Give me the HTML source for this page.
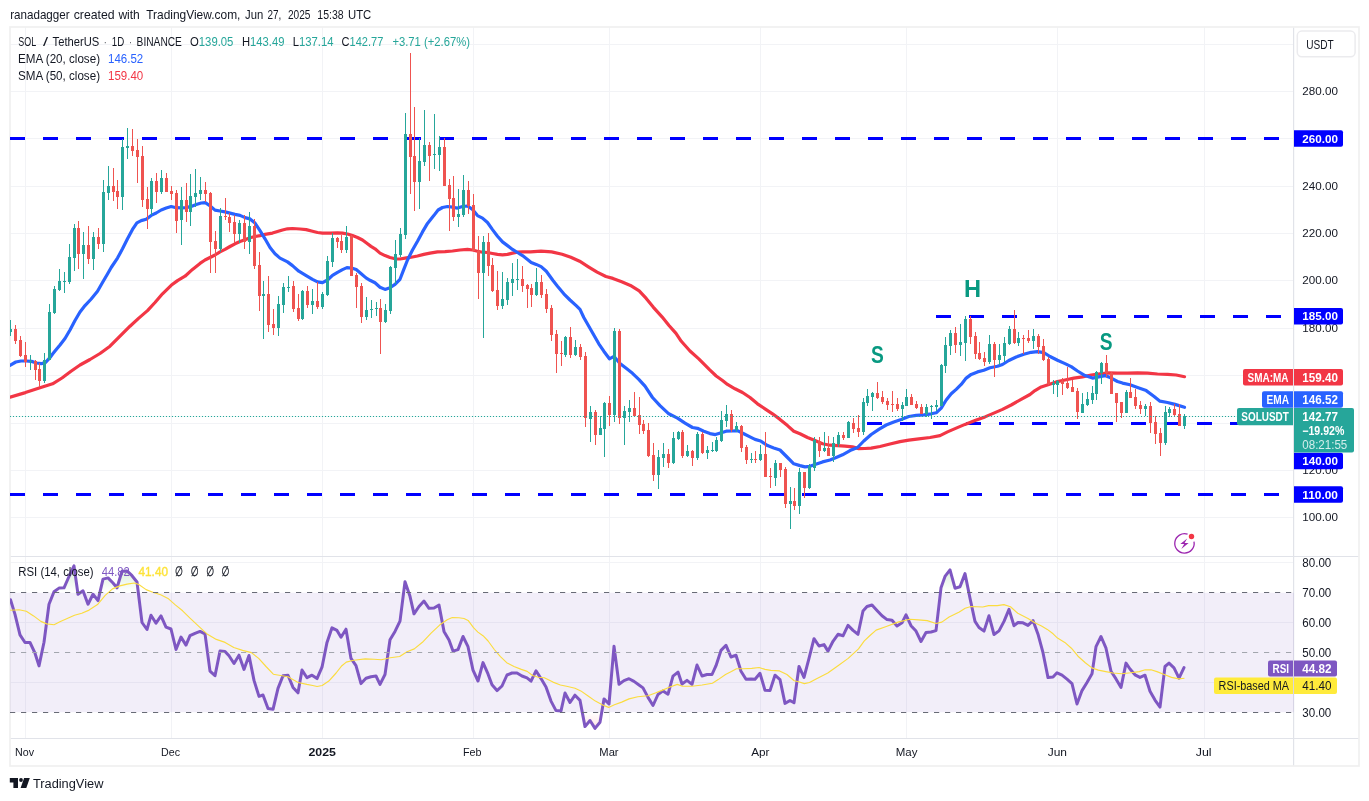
<!DOCTYPE html>
<html lang="en"><head><meta charset="utf-8"><title>SOL / TetherUS chart</title>
<style>html,body{margin:0;padding:0;background:#fff}body{width:1369px;height:801px;overflow:hidden}svg{display:block}</style>
</head><body>
<svg width="1369" height="801" viewBox="0 0 1369 801" font-family='"Liberation Sans", sans-serif' shape-rendering="auto">
<rect width="1369" height="801" fill="#fff"/>
<path d="M10 44.5H1294M10 91.5H1294M10 138.5H1294M10 186.5H1294M10 233.5H1294M10 280.5H1294M10 328.5H1294M10 375.5H1294M10 423.5H1294M10 470.5H1294M10 517.5H1294M10 562.5H1294M10 622.5H1294M10 682.5H1294M25.5 27V738M171.5 27V738M322.5 27V738M473.5 27V738M609.5 27V738M760.5 27V738M906.5 27V738M1057.5 27V738M1204.5 27V738" stroke="#f2f3f6" stroke-width="1" fill="none"/>
<path d="M1293.6 27V766M10 556.5H1359M10 738.5H1359" stroke="#e1e3e9" stroke-width="1.2" fill="none"/>
<rect x="10" y="27" width="1349" height="739" fill="none" stroke="#f0f0f0" stroke-width="1.7"/>
<rect x="10" y="592.8" width="1284" height="119.4" fill="#7e57c2" fill-opacity="0.1"/>
<defs><linearGradient id="gob" x1="0" y1="562" x2="0" y2="592" gradientUnits="userSpaceOnUse"><stop offset="0" stop-color="#4caf50" stop-opacity="0.28"/><stop offset="1" stop-color="#4caf50" stop-opacity="0"/></linearGradient><linearGradient id="gos" x1="0" y1="712" x2="0" y2="742" gradientUnits="userSpaceOnUse"><stop offset="0" stop-color="#ff5252" stop-opacity="0"/><stop offset="1" stop-color="#ff5252" stop-opacity="0.28"/></linearGradient><clipPath id="cob"><rect x="10" y="556" width="1284" height="36.299999999999955"/></clipPath><clipPath id="cos"><rect x="10" y="712.3" width="1284" height="25.700000000000045"/></clipPath><clipPath id="cr"><rect x="10" y="556" width="1284" height="182"/></clipPath><clipPath id="cm"><rect x="10" y="27" width="1284" height="529"/></clipPath></defs>
<polygon clip-path="url(#cob)" points="10.5,592.3 10.5,599.8 15.0,614.4 20.0,634.9 25.0,642.5 30.0,642.5 35.0,653.2 39.0,665.9 44.0,642.2 49.0,604.2 54.0,591.8 59.0,588.1 64.0,587.8 69.0,576.5 74.0,565.9 78.0,594.3 83.0,590.8 88.0,604.2 93.0,594.3 98.0,600.6 103.0,579.1 108.0,577.9 113.0,583.0 117.0,587.8 122.0,571.3 127.0,570.9 132.0,575.7 137.0,582.0 142.0,622.5 147.0,629.5 151.0,615.2 156.0,623.2 161.0,615.9 166.0,627.1 171.0,629.0 176.0,649.5 181.0,637.1 186.0,645.1 190.0,635.7 195.0,633.3 200.0,631.4 205.0,633.9 210.0,671.1 215.0,675.7 220.0,651.1 225.0,651.4 229.0,655.8 234.0,663.5 239.0,655.2 244.0,669.4 249.0,655.5 254.0,680.4 259.0,696.4 263.0,695.0 268.0,708.5 273.0,709.3 278.0,688.4 283.0,675.7 288.0,675.2 293.0,687.4 298.0,692.8 302.0,670.1 307.0,677.7 312.0,675.2 317.0,678.6 322.0,667.2 327.0,642.4 332.0,627.8 337.0,630.4 341.0,637.3 346.0,629.2 351.0,658.4 356.0,665.7 361.0,683.6 366.0,678.2 371.0,676.7 376.0,676.0 380.0,684.4 385.0,674.5 390.0,639.8 395.0,631.4 400.0,621.1 405.0,581.7 410.0,596.3 414.0,613.8 419.0,606.5 424.0,601.1 429.0,608.3 434.0,608.0 439.0,605.1 444.0,631.4 449.0,640.1 453.0,651.1 458.0,649.6 463.0,636.5 468.0,646.7 473.0,670.1 478.0,681.0 483.0,662.6 488.0,673.9 492.0,684.8 497.0,690.6 502.0,686.0 507.0,675.0 512.0,673.0 517.0,673.0 522.0,676.0 527.0,677.9 531.0,681.2 536.0,670.8 541.0,678.6 546.0,687.0 551.0,701.1 556.0,710.6 561.0,710.9 565.0,693.0 570.0,702.5 575.0,695.2 580.0,700.4 585.0,726.6 590.0,720.5 595.0,728.4 600.0,722.3 604.0,698.9 609.0,704.0 614.0,646.3 619.0,684.3 624.0,680.6 629.0,678.7 634.0,681.4 639.0,685.0 643.0,687.9 648.0,697.4 653.0,705.5 658.0,694.5 663.0,690.9 668.0,694.2 673.0,676.1 678.0,672.1 682.0,684.0 687.0,680.4 692.0,684.4 697.0,665.0 702.0,676.0 707.0,674.5 712.0,674.5 716.0,665.7 721.0,650.4 726.0,645.3 731.0,657.0 736.0,655.2 741.0,671.3 746.0,679.2 751.0,678.9 755.0,679.3 760.0,673.3 765.0,690.3 770.0,690.6 775.0,675.2 780.0,679.6 785.0,703.4 790.0,700.5 794.0,702.7 799.0,666.5 804.0,677.4 809.0,658.4 814.0,638.7 819.0,646.0 824.0,644.6 828.0,651.1 833.0,641.3 838.0,634.3 843.0,635.8 848.0,625.3 853.0,630.4 858.0,634.3 863.0,611.0 867.0,606.5 872.0,605.0 877.0,610.4 882.0,615.8 887.0,619.6 892.0,620.2 897.0,626.0 902.0,622.8 906.0,614.8 911.0,625.7 916.0,631.1 921.0,641.5 926.0,632.6 931.0,632.0 936.0,630.6 941.0,587.8 945.0,576.4 950.0,569.9 955.0,588.2 960.0,586.7 965.0,573.6 970.0,598.3 975.0,621.4 979.0,627.5 984.0,631.1 989.0,615.8 994.0,634.5 999.0,630.9 1004.0,621.4 1009.0,609.4 1014.0,625.7 1018.0,622.5 1023.0,622.8 1028.0,625.4 1033.0,620.6 1038.0,634.2 1043.0,652.7 1048.0,677.6 1053.0,677.0 1057.0,672.8 1062.0,675.2 1067.0,679.2 1072.0,683.6 1077.0,704.0 1082.0,690.6 1087.0,682.5 1092.0,673.8 1096.0,646.7 1101.0,636.5 1106.0,648.2 1111.0,671.3 1116.0,678.9 1121.0,687.4 1126.0,663.1 1130.0,669.0 1135.0,674.8 1140.0,677.4 1145.0,675.2 1150.0,691.3 1155.0,700.1 1160.0,707.1 1165.0,666.5 1169.0,663.1 1174.0,667.9 1179.0,678.2 1184.0,667.6 1184.0,592.3" fill="url(#gob)"/>
<polygon clip-path="url(#cos)" points="10.5,712.3 10.5,599.8 15.0,614.4 20.0,634.9 25.0,642.5 30.0,642.5 35.0,653.2 39.0,665.9 44.0,642.2 49.0,604.2 54.0,591.8 59.0,588.1 64.0,587.8 69.0,576.5 74.0,565.9 78.0,594.3 83.0,590.8 88.0,604.2 93.0,594.3 98.0,600.6 103.0,579.1 108.0,577.9 113.0,583.0 117.0,587.8 122.0,571.3 127.0,570.9 132.0,575.7 137.0,582.0 142.0,622.5 147.0,629.5 151.0,615.2 156.0,623.2 161.0,615.9 166.0,627.1 171.0,629.0 176.0,649.5 181.0,637.1 186.0,645.1 190.0,635.7 195.0,633.3 200.0,631.4 205.0,633.9 210.0,671.1 215.0,675.7 220.0,651.1 225.0,651.4 229.0,655.8 234.0,663.5 239.0,655.2 244.0,669.4 249.0,655.5 254.0,680.4 259.0,696.4 263.0,695.0 268.0,708.5 273.0,709.3 278.0,688.4 283.0,675.7 288.0,675.2 293.0,687.4 298.0,692.8 302.0,670.1 307.0,677.7 312.0,675.2 317.0,678.6 322.0,667.2 327.0,642.4 332.0,627.8 337.0,630.4 341.0,637.3 346.0,629.2 351.0,658.4 356.0,665.7 361.0,683.6 366.0,678.2 371.0,676.7 376.0,676.0 380.0,684.4 385.0,674.5 390.0,639.8 395.0,631.4 400.0,621.1 405.0,581.7 410.0,596.3 414.0,613.8 419.0,606.5 424.0,601.1 429.0,608.3 434.0,608.0 439.0,605.1 444.0,631.4 449.0,640.1 453.0,651.1 458.0,649.6 463.0,636.5 468.0,646.7 473.0,670.1 478.0,681.0 483.0,662.6 488.0,673.9 492.0,684.8 497.0,690.6 502.0,686.0 507.0,675.0 512.0,673.0 517.0,673.0 522.0,676.0 527.0,677.9 531.0,681.2 536.0,670.8 541.0,678.6 546.0,687.0 551.0,701.1 556.0,710.6 561.0,710.9 565.0,693.0 570.0,702.5 575.0,695.2 580.0,700.4 585.0,726.6 590.0,720.5 595.0,728.4 600.0,722.3 604.0,698.9 609.0,704.0 614.0,646.3 619.0,684.3 624.0,680.6 629.0,678.7 634.0,681.4 639.0,685.0 643.0,687.9 648.0,697.4 653.0,705.5 658.0,694.5 663.0,690.9 668.0,694.2 673.0,676.1 678.0,672.1 682.0,684.0 687.0,680.4 692.0,684.4 697.0,665.0 702.0,676.0 707.0,674.5 712.0,674.5 716.0,665.7 721.0,650.4 726.0,645.3 731.0,657.0 736.0,655.2 741.0,671.3 746.0,679.2 751.0,678.9 755.0,679.3 760.0,673.3 765.0,690.3 770.0,690.6 775.0,675.2 780.0,679.6 785.0,703.4 790.0,700.5 794.0,702.7 799.0,666.5 804.0,677.4 809.0,658.4 814.0,638.7 819.0,646.0 824.0,644.6 828.0,651.1 833.0,641.3 838.0,634.3 843.0,635.8 848.0,625.3 853.0,630.4 858.0,634.3 863.0,611.0 867.0,606.5 872.0,605.0 877.0,610.4 882.0,615.8 887.0,619.6 892.0,620.2 897.0,626.0 902.0,622.8 906.0,614.8 911.0,625.7 916.0,631.1 921.0,641.5 926.0,632.6 931.0,632.0 936.0,630.6 941.0,587.8 945.0,576.4 950.0,569.9 955.0,588.2 960.0,586.7 965.0,573.6 970.0,598.3 975.0,621.4 979.0,627.5 984.0,631.1 989.0,615.8 994.0,634.5 999.0,630.9 1004.0,621.4 1009.0,609.4 1014.0,625.7 1018.0,622.5 1023.0,622.8 1028.0,625.4 1033.0,620.6 1038.0,634.2 1043.0,652.7 1048.0,677.6 1053.0,677.0 1057.0,672.8 1062.0,675.2 1067.0,679.2 1072.0,683.6 1077.0,704.0 1082.0,690.6 1087.0,682.5 1092.0,673.8 1096.0,646.7 1101.0,636.5 1106.0,648.2 1111.0,671.3 1116.0,678.9 1121.0,687.4 1126.0,663.1 1130.0,669.0 1135.0,674.8 1140.0,677.4 1145.0,675.2 1150.0,691.3 1155.0,700.1 1160.0,707.1 1165.0,666.5 1169.0,663.1 1174.0,667.9 1179.0,678.2 1184.0,667.6 1184.0,712.3" fill="url(#gos)"/>
<path d="M10 138.5H1294" stroke="#0000ff" stroke-width="3" stroke-dasharray="15 18" fill="none"/>
<path d="M10 494.5H1294" stroke="#0000ff" stroke-width="3" stroke-dasharray="15 18" fill="none"/>
<path d="M936 316.5H1294" stroke="#0000ff" stroke-width="3" stroke-dasharray="15 18" fill="none"/>
<path d="M867 423.5H1294" stroke="#0000ff" stroke-width="3" stroke-dasharray="15 18" fill="none"/>
<path clip-path="url(#cm)" d="M10.0 397.2L25.4 392.6L40.0 387.8L52.6 383.8L62.0 378.0L71.0 371.2L80.0 365.0L90.0 359.5L100.0 353.5L110.0 346.2L120.0 336.2L130.0 326.2L138.8 318.1L147.5 310.6L155.0 302.5L162.5 293.8L171.2 285.3L177.5 280.6L185.0 276.2L192.5 269.4L200.0 263.4L205.0 260.0L210.0 257.5L215.0 255.0L220.0 251.9L225.0 249.4L230.0 246.5L235.0 243.8L240.0 241.5L245.0 239.8L250.0 237.8L255.0 236.5L260.0 235.6L265.0 234.4L272.5 233.1L277.5 231.5L282.5 230.0L287.5 228.8L292.5 228.5L300.0 229.0L306.2 229.6L312.5 231.2L317.5 232.5L322.5 233.1L330.0 233.1L337.5 232.9L342.5 233.1L347.5 234.0L352.5 235.6L357.5 237.5L362.5 240.0L367.5 243.8L371.0 246.4L375.0 248.8L380.0 253.1L385.0 255.6L390.0 257.5L395.0 258.8L400.0 259.0L405.0 258.1L411.2 257.2L417.5 256.0L423.8 254.4L430.0 253.1L437.5 251.9L445.0 251.6L452.5 251.0L460.0 250.0L467.5 249.4L472.5 250.0L477.5 251.2L482.5 252.2L487.5 252.5L492.5 253.5L497.5 254.4L502.5 254.8L507.5 254.4L512.5 253.1L517.5 252.2L522.5 251.9L530.5 251.9L541.0 251.1L551.6 251.9L562.1 254.2L570.8 257.2L579.6 261.2L588.4 266.8L597.1 272.1L605.9 276.5L612.9 278.4L621.7 281.8L630.4 285.4L639.2 290.9L646.2 298.4L653.2 307.1L662.0 316.8L669.0 325.5L676.0 333.4L681.3 341.3L690.0 351.0L698.8 358.9L709.5 369.7L716.2 376.0L722.5 380.5L727.5 384.4L735.0 388.8L742.5 392.5L750.0 397.5L757.5 403.8L765.0 408.8L772.5 413.8L780.0 419.4L787.5 425.6L793.8 431.2L800.0 433.8L807.5 437.5L815.0 440.6L822.5 443.8L830.0 445.2L837.5 445.6L845.0 446.2L852.5 446.9L858.8 448.6L865.0 448.5L871.1 448.1L880.0 446.5L890.0 444.0L900.0 441.6L908.8 440.1L918.8 438.8L930.0 437.5L940.0 435.6L947.5 431.9L956.2 428.1L965.0 424.4L975.0 420.6L985.0 416.9L993.8 413.1L1002.5 409.4L1011.2 405.0L1021.1 399.4L1030.0 394.5L1035.0 390.6L1041.2 386.9L1048.8 384.4L1056.2 381.9L1065.0 380.0L1073.8 378.1L1082.5 376.9L1091.2 375.0L1100.0 373.8L1108.8 372.8L1117.5 373.1L1127.5 373.1L1137.5 372.9L1147.5 373.1L1157.5 374.0L1167.5 374.4L1176.2 375.0L1184.5 376.7" stroke="#f23645" stroke-width="3.2" fill="none" stroke-linejoin="round" stroke-linecap="round"/>
<path clip-path="url(#cm)" d="M10.0 365.3L15.8 362.0L21.0 361.0L26.3 361.0L31.5 361.4L36.8 363.0L41.2 363.7L45.6 362.4L49.5 358.2L52.6 354.0L55.0 351.0L60.0 345.0L65.0 338.5L70.0 330.0L75.0 320.5L80.0 312.0L85.0 305.6L91.2 299.0L97.5 291.3L102.5 282.5L107.5 274.0L111.2 267.5L117.5 258.1L122.5 248.8L127.5 238.8L132.5 229.4L136.9 222.8L141.2 220.6L146.2 219.2L151.2 215.4L156.2 213.0L161.2 210.0L166.2 208.1L171.2 206.5L176.2 207.7L181.2 207.8L186.2 207.6L191.2 206.4L196.2 204.6L201.2 203.0L205.3 202.6L210.2 206.0L215.0 210.1L220.0 211.0L225.0 211.9L230.0 213.1L235.0 214.4L240.0 215.4L245.0 217.6L250.0 218.9L255.0 223.1L260.0 230.6L265.0 238.8L270.0 247.5L275.0 253.8L280.0 258.1L287.5 261.9L292.5 265.6L298.8 271.2L306.2 275.6L312.5 279.4L317.5 281.9L322.5 282.7L327.5 280.0L332.5 275.3L337.5 272.3L342.5 269.6L346.9 267.6L351.5 268.1L356.2 269.6L361.2 273.8L366.0 277.9L370.0 280.3L375.0 282.8L380.0 287.2L385.0 289.4L390.0 287.8L395.0 284.4L400.0 279.3L403.8 269.4L407.5 260.0L412.5 250.0L417.5 241.2L422.5 231.9L427.5 223.4L433.8 215.6L438.1 210.0L442.5 207.5L447.5 206.5L452.5 207.2L457.5 208.1L462.5 206.5L467.5 206.0L472.5 209.4L477.5 215.6L482.5 218.1L487.5 222.5L492.5 229.6L497.5 236.2L502.5 241.9L507.5 245.6L512.5 249.4L517.5 252.5L522.5 255.6L527.5 259.4L531.2 262.4L536.2 264.4L541.1 266.6L546.3 271.2L553.0 280.5L557.5 286.2L563.8 293.8L570.0 300.0L576.2 305.6L580.0 309.4L583.8 317.5L588.8 326.2L593.8 335.0L598.8 343.8L603.8 351.2L609.4 358.8L614.0 356.4L620.0 363.6L626.5 368.6L632.5 373.3L638.8 379.4L645.0 386.2L652.5 397.5L660.0 405.6L668.8 413.8L677.5 418.1L685.0 423.1L692.5 427.5L697.5 428.3L703.8 431.2L710.0 433.6L715.4 434.6L721.2 432.7L726.2 431.2L732.5 431.0L737.5 430.6L743.8 433.8L750.0 436.9L755.0 439.4L760.6 441.0L767.5 445.6L773.8 447.9L780.0 450.0L787.5 457.5L793.8 463.8L800.0 465.6L805.0 466.9L810.0 466.3L815.0 464.4L822.5 461.9L830.0 460.0L836.2 457.5L842.5 454.8L850.0 450.6L857.5 447.5L863.8 441.0L871.2 434.5L878.8 429.4L886.2 425.0L893.8 421.9L901.2 419.4L908.8 416.5L916.2 415.4L923.8 414.8L931.2 413.8L936.2 412.8L941.2 408.1L946.2 400.0L951.2 393.8L956.2 389.4L961.2 384.4L966.2 378.1L971.2 374.4L977.5 371.9L983.8 370.3L990.0 367.8L997.5 366.2L1002.5 364.5L1008.8 360.5L1016.2 357.0L1023.8 354.3L1031.2 352.3L1037.5 351.6L1043.8 352.7L1050.0 356.5L1057.5 360.3L1065.0 363.6L1071.2 366.6L1077.5 371.0L1085.0 375.6L1092.5 378.1L1098.8 376.9L1105.0 375.6L1111.2 378.1L1117.5 381.5L1122.5 383.1L1130.0 384.8L1137.5 387.5L1146.2 390.6L1153.8 396.2L1160.0 401.2L1167.5 402.5L1175.0 404.4L1184.5 407.3" stroke="#2962ff" stroke-width="3.2" fill="none" stroke-linejoin="round" stroke-linecap="round"/>
<g clip-path="url(#cm)" shape-rendering="crispEdges"><path d="M10.5 320V336M30.5 355V370M44.5 353V383M49.5 304V360M54.5 286V314M59.5 269V291M64.5 272V293M69.5 244V284M74.5 224V271M83.5 232V279M93.5 232V270M103.5 180V252M108.5 166V200M122.5 139V210M127.5 128V159M151.5 178V215M161.5 170V194M181.5 187V245M190.5 174V226M195.5 169V207M200.5 177V200M220.5 208V252M239.5 220V243M249.5 212V254M263.5 281V339M278.5 296V336M283.5 283V313M288.5 276V292M302.5 290V320M312.5 289V314M322.5 292V309M327.5 256V296M332.5 233V267M346.5 226V253M366.5 297V320M371.5 300V318M376.5 302V316M385.5 304V323M390.5 266V314M395.5 240V284M400.5 228V257M405.5 113V239M419.5 138V209M424.5 110V166M434.5 114V169M439.5 136V171M458.5 189V227M463.5 175V217M483.5 236V338M502.5 272V309M507.5 278V305M512.5 263V296M517.5 259V290M536.5 268V296M565.5 336V357M575.5 340V356M590.5 406V442M600.5 416V435M604.5 402V457M614.5 328V422M624.5 406V445M629.5 400V422M658.5 450V489M663.5 443V467M673.5 432V464M678.5 431V440M687.5 445V457M697.5 432V460M707.5 446V459M712.5 442V452M716.5 437V452M721.5 411V442M726.5 405V427M736.5 422V432M751.5 453V463M760.5 445V461M775.5 460V486M790.5 487V529M799.5 468V514M809.5 464V489M814.5 437V471M824.5 432V452M833.5 437V462M838.5 432V447M848.5 421V438M863.5 398V435M867.5 389V406M872.5 392V411M902.5 402V421M906.5 389V406M926.5 404V417M931.5 405V419M936.5 400V411M941.5 364V406M945.5 337V373M950.5 330V355M960.5 324V356M965.5 316V361M989.5 335V364M999.5 344V365M1004.5 337V362M1009.5 326V345M1018.5 332V346M1033.5 329V349M1053.5 380V394M1057.5 380V397M1082.5 393V413M1087.5 392V406M1092.5 386V404M1096.5 371V400M1101.5 362V384M1126.5 390V413M1145.5 404V416M1165.5 406V445M1169.5 407V417M1184.5 414V429" stroke="#26a69a" stroke-width="1" fill="none"/><path d="M10 329h2.0v3h-2.0zM29.0 361h3v1h-3zM43.0 360h3v21h-3zM48.0 312h3v48h-3zM53.0 289h3v24h-3zM58.0 281h3v9h-3zM63.0 281h3v1h-3zM68.0 257h3v25h-3zM73.0 228h3v30h-3zM82.0 245h3v9h-3zM92.0 237h3v22h-3zM102.0 192h3v52h-3zM107.0 186h3v7h-3zM121.0 147h3v50h-3zM126.0 146h3v2h-3zM150.0 181h3v28h-3zM160.0 178h3v14h-3zM180.0 200h3v20h-3zM189.0 196h3v16h-3zM194.0 193h3v4h-3zM199.0 190h3v4h-3zM219.0 216h3v33h-3zM238.0 223h3v11h-3zM248.0 226h3v16h-3zM262.0 294h3v2h-3zM277.0 304h3v24h-3zM282.0 287h3v18h-3zM287.0 287h3v1h-3zM301.0 291h3v28h-3zM311.0 301h3v4h-3zM321.0 294h3v13h-3zM326.0 261h3v34h-3zM331.0 238h3v24h-3zM345.0 237h3v13h-3zM365.0 310h3v7h-3zM370.0 309h3v1h-3zM375.0 308h3v1h-3zM384.0 310h3v12h-3zM389.0 267h3v44h-3zM394.0 254h3v14h-3zM399.0 234h3v21h-3zM404.0 134h3v101h-3zM418.0 161h3v21h-3zM423.0 145h3v17h-3zM433.0 154h3v1h-3zM438.0 147h3v8h-3zM457.0 214h3v3h-3zM462.0 190h3v25h-3zM482.0 242h3v31h-3zM501.0 299h3v7h-3zM506.0 282h3v18h-3zM511.0 279h3v4h-3zM516.0 279h3v1h-3zM535.0 282h3v13h-3zM564.0 337h3v18h-3zM574.0 347h3v8h-3zM589.0 412h3v7h-3zM599.0 428h3v7h-3zM603.0 403h3v26h-3zM613.0 331h3v84h-3zM623.0 411h3v7h-3zM628.0 408h3v4h-3zM657.0 457h3v18h-3zM662.0 454h3v4h-3zM672.0 438h3v25h-3zM677.0 432h3v7h-3zM686.0 451h3v5h-3zM696.0 434h3v24h-3zM706.0 450h3v3h-3zM711.0 450h3v1h-3zM715.0 440h3v11h-3zM720.0 420h3v21h-3zM725.0 414h3v7h-3zM735.0 426h3v4h-3zM750.0 459h3v1h-3zM759.0 454h3v6h-3zM774.0 463h3v15h-3zM789.0 501h3v3h-3zM798.0 472h3v34h-3zM808.0 466h3v22h-3zM813.0 440h3v28h-3zM823.0 448h3v3h-3zM832.0 443h3v13h-3zM837.0 435h3v9h-3zM847.0 422h3v16h-3zM862.0 402h3v30h-3zM866.0 396h3v7h-3zM871.0 393h3v4h-3zM901.0 405h3v4h-3zM905.0 397h3v9h-3zM925.0 407h3v7h-3zM930.0 406h3v1h-3zM935.0 405h3v2h-3zM940.0 365h3v41h-3zM944.0 345h3v21h-3zM949.0 333h3v13h-3zM959.0 342h3v3h-3zM964.0 319h3v24h-3zM988.0 344h3v18h-3zM998.0 355h3v5h-3zM1003.0 343h3v13h-3zM1008.0 329h3v15h-3zM1017.0 338h3v5h-3zM1032.0 336h3v5h-3zM1052.0 383h3v2h-3zM1056.0 381h3v4h-3zM1081.0 404h3v9h-3zM1086.0 399h3v6h-3zM1091.0 393h3v7h-3zM1095.0 372h3v22h-3zM1100.0 363h3v10h-3zM1125.0 392h3v21h-3zM1144.0 406h3v3h-3zM1164.0 412h3v31h-3zM1168.0 409h3v4h-3zM1183.0 416h3v10h-3z" fill="#26a69a"/><path d="M15.5 325V344M20.5 336V357M25.5 342V367M35.5 360V380M39.5 363V387M78.5 221V269M88.5 226V264M98.5 228V249M113.5 168V201M117.5 180V209M132.5 129V156M137.5 139V183M142.5 146V207M147.5 187V229M156.5 173V203M166.5 173V192M171.5 186V200M176.5 190V233M186.5 183V222M205.5 182V202M210.5 192V273M215.5 231V273M225.5 198V220M229.5 213V232M234.5 215V243M244.5 215V249M254.5 219V269M259.5 252V311M268.5 276V332M273.5 309V335M293.5 281V312M298.5 294V321M307.5 286V308M317.5 282V309M337.5 237V248M341.5 235V253M351.5 235V276M356.5 273V308M361.5 283V323M380.5 299V354M410.5 53V194M414.5 107V211M429.5 142V181M444.5 138V186M449.5 179V231M453.5 176V221M468.5 181V214M473.5 194V251M478.5 236V299M488.5 233V276M492.5 258V292M497.5 271V310M522.5 266V292M527.5 284V308M531.5 284V307M541.5 275V298M546.5 289V313M551.5 305V341M556.5 330V373M561.5 341V366M570.5 327V358M580.5 344V360M585.5 352V427M595.5 410V445M609.5 396V426M619.5 329V424M634.5 392V417M639.5 397V434M643.5 420V434M648.5 423V457M653.5 443V481M668.5 449V468M682.5 430V458M692.5 450V466M702.5 432V454M731.5 410V432M741.5 425V452M746.5 445V464M755.5 451V463M765.5 432V477M770.5 468V488M780.5 463V477M785.5 467V508M794.5 488V510M804.5 472V498M819.5 437V457M828.5 436V456M843.5 432V440M853.5 418V433M858.5 415V437M877.5 382V399M882.5 391V404M887.5 398V410M892.5 391V412M897.5 398V411M911.5 394V405M916.5 401V409M921.5 404V414M955.5 327V353M970.5 316V344M975.5 332V359M979.5 342V360M984.5 352V366M994.5 342V377M1014.5 310V344M1023.5 335V354M1028.5 330V343M1038.5 334V354M1043.5 339V361M1048.5 357V385M1062.5 378V395M1067.5 367V389M1072.5 380V392M1077.5 388V419M1106.5 355V377M1111.5 372V394M1116.5 393V422M1121.5 402V418M1130.5 378V398M1135.5 389V409M1140.5 401V414M1150.5 402V433M1155.5 416V444M1160.5 428V456M1174.5 404V416M1179.5 404V426" stroke="#ef5350" stroke-width="1" fill="none"/><path d="M14.0 329h3v12h-3zM19.0 340h3v16h-3zM24.0 355h3v7h-3zM34.0 361h3v9h-3zM38.0 369h3v12h-3zM77.0 228h3v26h-3zM87.0 245h3v14h-3zM97.0 237h3v7h-3zM112.0 186h3v6h-3zM116.0 191h3v6h-3zM131.0 146h3v5h-3zM136.0 150h3v7h-3zM141.0 156h3v44h-3zM146.0 199h3v10h-3zM155.0 181h3v11h-3zM165.0 178h3v14h-3zM170.0 191h3v3h-3zM175.0 193h3v28h-3zM185.0 200h3v12h-3zM204.0 190h3v4h-3zM209.0 193h3v49h-3zM214.0 241h3v8h-3zM224.0 216h3v1h-3zM228.0 217h3v6h-3zM233.0 222h3v12h-3zM243.0 223h3v19h-3zM253.0 226h3v40h-3zM258.0 265h3v31h-3zM267.0 294h3v31h-3zM272.0 324h3v4h-3zM292.0 286h3v23h-3zM297.0 308h3v11h-3zM306.0 291h3v14h-3zM316.0 301h3v6h-3zM336.0 238h3v4h-3zM340.0 241h3v9h-3zM350.0 236h3v40h-3zM355.0 275h3v12h-3zM360.0 286h3v31h-3zM379.0 308h3v14h-3zM409.0 134h3v23h-3zM413.0 156h3v26h-3zM428.0 145h3v11h-3zM443.0 147h3v39h-3zM448.0 185h3v14h-3zM452.0 198h3v19h-3zM467.0 190h3v16h-3zM472.0 205h3v46h-3zM477.0 251h3v22h-3zM487.0 242h3v24h-3zM491.0 265h3v26h-3zM496.0 290h3v16h-3zM521.0 279h3v7h-3zM526.0 285h3v4h-3zM530.0 288h3v7h-3zM540.0 282h3v13h-3zM545.0 294h3v15h-3zM550.0 308h3v27h-3zM555.0 334h3v20h-3zM560.0 353h3v1h-3zM569.0 337h3v18h-3zM579.0 347h3v10h-3zM584.0 356h3v62h-3zM594.0 412h3v23h-3zM608.0 403h3v12h-3zM618.0 331h3v87h-3zM633.0 408h3v8h-3zM638.0 415h3v10h-3zM642.0 424h3v7h-3zM647.0 430h3v26h-3zM652.0 455h3v20h-3zM667.0 454h3v9h-3zM681.0 432h3v24h-3zM691.0 451h3v7h-3zM701.0 434h3v19h-3zM730.0 414h3v16h-3zM740.0 426h3v22h-3zM745.0 447h3v13h-3zM754.0 459h3v1h-3zM764.0 454h3v23h-3zM769.0 476h3v1h-3zM779.0 463h3v7h-3zM784.0 469h3v35h-3zM793.0 501h3v5h-3zM803.0 472h3v16h-3zM818.0 441h3v10h-3zM827.0 448h3v8h-3zM842.0 435h3v3h-3zM852.0 423h3v6h-3zM857.0 428h3v4h-3zM876.0 393h3v5h-3zM881.0 397h3v5h-3zM886.0 401h3v4h-3zM891.0 404h3v1h-3zM896.0 404h3v5h-3zM910.0 397h3v8h-3zM915.0 404h3v4h-3zM920.0 407h3v7h-3zM954.0 333h3v12h-3zM969.0 319h3v18h-3zM974.0 336h3v18h-3zM978.0 353h3v6h-3zM983.0 358h3v4h-3zM993.0 344h3v16h-3zM1013.0 329h3v14h-3zM1022.0 338h3v1h-3zM1027.0 338h3v3h-3zM1037.0 336h3v11h-3zM1042.0 346h3v14h-3zM1047.0 359h3v25h-3zM1061.0 381h3v3h-3zM1066.0 383h3v5h-3zM1071.0 387h3v5h-3zM1076.0 391h3v21h-3zM1105.0 363h3v10h-3zM1110.0 373h3v21h-3zM1115.0 393h3v10h-3zM1120.0 402h3v11h-3zM1129.0 392h3v6h-3zM1134.0 397h3v9h-3zM1139.0 405h3v4h-3zM1149.0 406h3v17h-3zM1154.0 422h3v12h-3zM1159.0 433h3v10h-3zM1173.0 409h3v6h-3zM1178.0 414h3v12h-3z" fill="#ef5350"/></g>
<path d="M10 416.5H1237" stroke="#26a69a" stroke-width="1.2" stroke-dasharray="1.2 1.8" stroke-dashoffset="0.1" fill="none"/>
<text x="871" y="363" font-size="23.2" fill="#089981" font-weight="bold" textLength="12.8" lengthAdjust="spacingAndGlyphs">S</text>
<text x="963.9" y="296.9" font-size="23.6" fill="#089981" font-weight="bold">H</text>
<text x="1099.7" y="349.9" font-size="23.2" fill="#089981" font-weight="bold" textLength="12.8" lengthAdjust="spacingAndGlyphs">S</text>
<path clip-path="url(#cr)" d="M10.5 599.8L15.0 614.4L20.0 634.9L25.0 642.5L30.0 642.5L35.0 653.2L39.0 665.9L44.0 642.2L49.0 604.2L54.0 591.8L59.0 588.1L64.0 587.8L69.0 576.5L74.0 565.9L78.0 594.3L83.0 590.8L88.0 604.2L93.0 594.3L98.0 600.6L103.0 579.1L108.0 577.9L113.0 583.0L117.0 587.8L122.0 571.3L127.0 570.9L132.0 575.7L137.0 582.0L142.0 622.5L147.0 629.5L151.0 615.2L156.0 623.2L161.0 615.9L166.0 627.1L171.0 629.0L176.0 649.5L181.0 637.1L186.0 645.1L190.0 635.7L195.0 633.3L200.0 631.4L205.0 633.9L210.0 671.1L215.0 675.7L220.0 651.1L225.0 651.4L229.0 655.8L234.0 663.5L239.0 655.2L244.0 669.4L249.0 655.5L254.0 680.4L259.0 696.4L263.0 695.0L268.0 708.5L273.0 709.3L278.0 688.4L283.0 675.7L288.0 675.2L293.0 687.4L298.0 692.8L302.0 670.1L307.0 677.7L312.0 675.2L317.0 678.6L322.0 667.2L327.0 642.4L332.0 627.8L337.0 630.4L341.0 637.3L346.0 629.2L351.0 658.4L356.0 665.7L361.0 683.6L366.0 678.2L371.0 676.7L376.0 676.0L380.0 684.4L385.0 674.5L390.0 639.8L395.0 631.4L400.0 621.1L405.0 581.7L410.0 596.3L414.0 613.8L419.0 606.5L424.0 601.1L429.0 608.3L434.0 608.0L439.0 605.1L444.0 631.4L449.0 640.1L453.0 651.1L458.0 649.6L463.0 636.5L468.0 646.7L473.0 670.1L478.0 681.0L483.0 662.6L488.0 673.9L492.0 684.8L497.0 690.6L502.0 686.0L507.0 675.0L512.0 673.0L517.0 673.0L522.0 676.0L527.0 677.9L531.0 681.2L536.0 670.8L541.0 678.6L546.0 687.0L551.0 701.1L556.0 710.6L561.0 710.9L565.0 693.0L570.0 702.5L575.0 695.2L580.0 700.4L585.0 726.6L590.0 720.5L595.0 728.4L600.0 722.3L604.0 698.9L609.0 704.0L614.0 646.3L619.0 684.3L624.0 680.6L629.0 678.7L634.0 681.4L639.0 685.0L643.0 687.9L648.0 697.4L653.0 705.5L658.0 694.5L663.0 690.9L668.0 694.2L673.0 676.1L678.0 672.1L682.0 684.0L687.0 680.4L692.0 684.4L697.0 665.0L702.0 676.0L707.0 674.5L712.0 674.5L716.0 665.7L721.0 650.4L726.0 645.3L731.0 657.0L736.0 655.2L741.0 671.3L746.0 679.2L751.0 678.9L755.0 679.3L760.0 673.3L765.0 690.3L770.0 690.6L775.0 675.2L780.0 679.6L785.0 703.4L790.0 700.5L794.0 702.7L799.0 666.5L804.0 677.4L809.0 658.4L814.0 638.7L819.0 646.0L824.0 644.6L828.0 651.1L833.0 641.3L838.0 634.3L843.0 635.8L848.0 625.3L853.0 630.4L858.0 634.3L863.0 611.0L867.0 606.5L872.0 605.0L877.0 610.4L882.0 615.8L887.0 619.6L892.0 620.2L897.0 626.0L902.0 622.8L906.0 614.8L911.0 625.7L916.0 631.1L921.0 641.5L926.0 632.6L931.0 632.0L936.0 630.6L941.0 587.8L945.0 576.4L950.0 569.9L955.0 588.2L960.0 586.7L965.0 573.6L970.0 598.3L975.0 621.4L979.0 627.5L984.0 631.1L989.0 615.8L994.0 634.5L999.0 630.9L1004.0 621.4L1009.0 609.4L1014.0 625.7L1018.0 622.5L1023.0 622.8L1028.0 625.4L1033.0 620.6L1038.0 634.2L1043.0 652.7L1048.0 677.6L1053.0 677.0L1057.0 672.8L1062.0 675.2L1067.0 679.2L1072.0 683.6L1077.0 704.0L1082.0 690.6L1087.0 682.5L1092.0 673.8L1096.0 646.7L1101.0 636.5L1106.0 648.2L1111.0 671.3L1116.0 678.9L1121.0 687.4L1126.0 663.1L1130.0 669.0L1135.0 674.8L1140.0 677.4L1145.0 675.2L1150.0 691.3L1155.0 700.1L1160.0 707.1L1165.0 666.5L1169.0 663.1L1174.0 667.9L1179.0 678.2L1184.0 667.6" stroke="#7e57c2" stroke-width="3" fill="none" stroke-linejoin="round" stroke-linecap="round"/>
<path clip-path="url(#cr)" d="M10.2 610.3L19.0 609.8L26.3 611.2L33.6 615.9L40.9 621.4L46.7 623.9L54.1 624.7L59.9 621.7L67.2 618.5L74.5 615.2L81.8 613.3L89.1 610.1L97.9 604.2L105.2 595.4L112.5 588.9L119.8 585.9L127.1 584.1L134.4 583.0L138.8 584.5L146.1 589.6L153.4 592.5L160.7 594.7L168.0 598.4L175.3 604.9L182.6 610.8L190.0 618.2L198.8 626.3L207.5 634.3L216.3 639.4L225.1 642.4L233.8 647.5L242.6 650.4L251.4 652.6L258.7 658.4L266.0 666.5L273.3 674.2L280.6 675.5L287.9 676.7L298.1 682.5L306.9 684.4L312.7 685.5L317.1 686.5L322.2 685.5L328.8 681.1L336.1 673.0L341.9 665.7L346.3 662.1L353.6 660.2L365.3 658.9L374.1 659.2L381.4 659.8L390.2 657.7L399.7 656.5L407.0 651.8L414.3 648.9L422.4 642.3L431.1 633.1L439.9 624.8L447.2 619.7L452.3 617.5L458.9 617.8L464.0 618.5L468.1 620.4L473.5 627.7L477.9 632.1L483.0 635.7L488.1 641.0L494.3 649.5L500.2 656.4L506.7 662.7L514.0 666.5L521.3 669.4L527.2 671.4L532.6 675.5L538.4 677.3L544.3 677.7L553.0 682.1L560.4 685.0L567.7 686.5L575.0 688.2L580.8 690.9L588.1 696.0L595.4 701.1L602.7 705.0L608.6 707.4L614.4 704.7L621.7 702.1L629.0 698.9L637.8 696.7L648.0 695.7L655.3 693.0L662.6 690.1L670.0 687.0L677.3 684.4L682.4 686.2L691.9 686.2L702.1 685.0L712.4 683.3L718.2 679.6L725.5 674.5L731.4 671.6L736.5 668.7L743.0 668.7L751.8 668.4L759.1 667.5L765.0 669.4L770.8 670.4L779.6 670.9L786.9 674.5L794.2 680.8L798.6 681.8L804.4 683.6L809.5 682.5L816.1 678.9L827.8 673.0L838.0 665.7L848.2 658.4L858.5 648.9L864.3 640.9L870.0 635.5L876.1 630.1L886.3 626.5L898.0 622.1L909.7 619.2L918.4 619.9L927.2 620.6L936.0 623.5L941.8 622.1L949.1 617.0L959.3 611.9L965.2 608.2L971.0 606.5L982.7 607.0L988.6 605.6L997.3 605.6L1003.9 604.6L1010.5 606.7L1017.8 613.3L1028.0 618.4L1035.3 623.1L1041.5 626.0L1047.3 629.4L1053.1 633.8L1057.5 638.1L1064.8 642.4L1071.4 648.2L1078.0 656.2L1085.3 662.8L1091.9 667.9L1098.4 670.1L1105.7 671.6L1113.0 673.0L1121.8 673.8L1130.6 672.8L1139.3 671.6L1145.2 669.8L1151.0 669.8L1156.9 671.6L1164.2 674.5L1171.5 677.4L1178.8 678.9L1184.5 678.2" stroke="#fbdc3f" stroke-width="1.15" fill="none" stroke-linejoin="round"/>
<path d="M10 592.5H1294" stroke="#686b76" stroke-width="1.1" stroke-dasharray="5.2 5.8" fill="none"/>
<path d="M10 652.5H1294" stroke="#a3a6ae" stroke-width="1.1" stroke-dasharray="5.2 5.8" fill="none"/>
<path d="M10 712.5H1294" stroke="#686b76" stroke-width="1.1" stroke-dasharray="5.2 5.8" fill="none"/>
<text x="18.3" y="575.7" font-size="12" fill="#131722" textLength="75.2" lengthAdjust="spacingAndGlyphs">RSI (14, close)</text>
<text x="101.8" y="575.7" font-size="12" fill="#7e57c2" textLength="28" lengthAdjust="spacingAndGlyphs">44.82</text>
<text x="138.5" y="575.7" font-size="12" fill="#fde33a" textLength="29.5" lengthAdjust="spacingAndGlyphs" stroke="#fde33a" stroke-width="0.35">41.40</text>
<text x="175.0" y="576.3" font-size="13.5" fill="#131722" textLength="7.9" lengthAdjust="spacingAndGlyphs" font-family="DejaVu Sans, Liberation Sans, sans-serif" stroke="#131722" stroke-width="0.3">∅</text>
<text x="190.7" y="576.3" font-size="13.5" fill="#131722" textLength="7.9" lengthAdjust="spacingAndGlyphs" font-family="DejaVu Sans, Liberation Sans, sans-serif" stroke="#131722" stroke-width="0.3">∅</text>
<text x="206.2" y="576.3" font-size="13.5" fill="#131722" textLength="7.9" lengthAdjust="spacingAndGlyphs" font-family="DejaVu Sans, Liberation Sans, sans-serif" stroke="#131722" stroke-width="0.3">∅</text>
<text x="221.5" y="576.3" font-size="13.5" fill="#131722" textLength="7.9" lengthAdjust="spacingAndGlyphs" font-family="DejaVu Sans, Liberation Sans, sans-serif" stroke="#131722" stroke-width="0.3">∅</text>
<g fill="none" stroke="#9c27b0" stroke-width="1.3"><path d="M1187.6 534.2A9.7 9.7 0 1 0 1194 541.6"/></g>
<path d="M1187.2 538.4L1180.3 543.9h3.9l-2.9 5 7.3-5.9h-4z" fill="#9c27b0"/>
<circle cx="1191.5" cy="536.5" r="2.7" fill="#f23645"/>
<text x="1302.3" y="94.9" font-size="11.6" fill="#131722" textLength="35.6" lengthAdjust="spacingAndGlyphs">280.00</text>
<text x="1302.3" y="189.9" font-size="11.6" fill="#131722" textLength="35.6" lengthAdjust="spacingAndGlyphs">240.00</text>
<text x="1302.3" y="236.9" font-size="11.6" fill="#131722" textLength="35.6" lengthAdjust="spacingAndGlyphs">220.00</text>
<text x="1302.3" y="283.9" font-size="11.6" fill="#131722" textLength="35.6" lengthAdjust="spacingAndGlyphs">200.00</text>
<text x="1302.3" y="331.9" font-size="11.6" fill="#131722" textLength="35.6" lengthAdjust="spacingAndGlyphs">180.00</text>
<text x="1302.3" y="473.9" font-size="11.6" fill="#131722" textLength="35.6" lengthAdjust="spacingAndGlyphs">120.00</text>
<text x="1302.3" y="520.9" font-size="11.6" fill="#131722" textLength="35.6" lengthAdjust="spacingAndGlyphs">100.00</text>
<text x="1302.3" y="566.7" font-size="12" fill="#131722" textLength="29" lengthAdjust="spacingAndGlyphs">80.00</text>
<text x="1302.3" y="596.7" font-size="12" fill="#131722" textLength="29" lengthAdjust="spacingAndGlyphs">70.00</text>
<text x="1302.3" y="626.7" font-size="12" fill="#131722" textLength="29" lengthAdjust="spacingAndGlyphs">60.00</text>
<text x="1302.3" y="656.7" font-size="12" fill="#131722" textLength="29" lengthAdjust="spacingAndGlyphs">50.00</text>
<text x="1302.3" y="716.7" font-size="12" fill="#131722" textLength="29" lengthAdjust="spacingAndGlyphs">30.00</text>
<path d="M1294 130.2H1341q2 0 2 2V144.8q0 2 -2 2H1294q-0 0 -0 -0V130.2q0 -0 0 -0z" fill="#0000ff"/>
<text x="1302.3" y="142.6" font-size="11.8" fill="#fff" font-weight="bold" textLength="35.6" lengthAdjust="spacingAndGlyphs">260.00</text>
<path d="M1294 308.0H1341q2 0 2 2V322.6q0 2 -2 2H1294q-0 0 -0 -0V308.0q0 -0 0 -0z" fill="#0000ff"/>
<text x="1302.3" y="320.40000000000003" font-size="11.8" fill="#fff" font-weight="bold" textLength="35.6" lengthAdjust="spacingAndGlyphs">185.00</text>
<path d="M1294 452.7H1341q2 0 2 2V467.3q0 2 -2 2H1294q-0 0 -0 -0V452.7q0 -0 0 -0z" fill="#0000ff"/>
<text x="1302.3" y="465.1" font-size="11.8" fill="#fff" font-weight="bold" textLength="35.6" lengthAdjust="spacingAndGlyphs">140.00</text>
<path d="M1294 486.2H1341q2 0 2 2V500.8q0 2 -2 2H1294q-0 0 -0 -0V486.2q0 -0 0 -0z" fill="#0000ff"/>
<text x="1302.3" y="498.6" font-size="11.8" fill="#fff" font-weight="bold" textLength="35.6" lengthAdjust="spacingAndGlyphs">110.00</text>
<path d="M1294 369H1341q2 0 2 2V383.6q0 2 -2 2H1294q-0 0 -0 -0V369q0 -0 0 -0z" fill="#f23645"/>
<text x="1302.3" y="381.7" font-size="12" fill="#fff" font-weight="bold" textLength="35.6" lengthAdjust="spacingAndGlyphs">159.40</text>
<path d="M1245 369H1293q0 0 0 0V385.6q0 0 -0 0H1245q-2 0 -2 -2V371q0 -2 2 -2z" fill="#f23645"/>
<text x="1247.5" y="381.7" font-size="12" fill="#fff" font-weight="bold" textLength="41" lengthAdjust="spacingAndGlyphs">SMA:MA</text>
<path d="M1294 391.3H1341q2 0 2 2V405.8q0 2 -2 2H1294q-0 0 -0 -0V391.3q0 -0 0 -0z" fill="#2962ff"/>
<text x="1302.3" y="404" font-size="12" fill="#fff" font-weight="bold" textLength="35.6" lengthAdjust="spacingAndGlyphs">146.52</text>
<path d="M1264 391.3H1293q0 0 0 0V407.8q0 0 -0 0H1264q-2 0 -2 -2V393.3q0 -2 2 -2z" fill="#2962ff"/>
<text x="1266.5" y="404" font-size="12" fill="#fff" font-weight="bold" textLength="22.5" lengthAdjust="spacingAndGlyphs">EMA</text>
<path d="M1294 408H1352q2 0 2 2V450.6q0 2 -2 2H1294q-0 0 -0 -0V408q0 -0 0 -0z" fill="#26a69a"/>
<text x="1302.3" y="420.7" font-size="12" fill="#fff" font-weight="bold" textLength="35.6" lengthAdjust="spacingAndGlyphs">142.77</text>
<text x="1302.3" y="435" font-size="12" fill="#fff" font-weight="bold" textLength="42" lengthAdjust="spacingAndGlyphs">−19.92%</text>
<text x="1302.3" y="449.2" font-size="12" fill="#fff" textLength="45" lengthAdjust="spacingAndGlyphs" fill-opacity="0.8">08:21:55</text>
<path d="M1239 408H1293q0 0 0 0V425.2q0 0 -0 0H1239q-2 0 -2 -2V410q0 -2 2 -2z" fill="#26a69a"/>
<text x="1241.3" y="420.7" font-size="12" fill="#fff" font-weight="bold" textLength="47.5" lengthAdjust="spacingAndGlyphs">SOLUSDT</text>
<path d="M1294 660.4H1335q2 0 2 2V674.6q0 2 -2 2H1294q-0 0 -0 -0V660.4q0 -0 0 -0z" fill="#7e57c2"/>
<text x="1302.3" y="672.8" font-size="12" fill="#fff" font-weight="bold" textLength="29.3" lengthAdjust="spacingAndGlyphs">44.82</text>
<path d="M1270 660.4H1293q0 0 0 0V676.6q0 0 -0 0H1270q-2 0 -2 -2V662.4q0 -2 2 -2z" fill="#7e57c2"/>
<text x="1272.5" y="672.8" font-size="12" fill="#fff" font-weight="bold" textLength="16.5" lengthAdjust="spacingAndGlyphs">RSI</text>
<path d="M1294 677.4H1335q2 0 2 2V692q0 2 -2 2H1294q-0 0 -0 -0V677.4q0 -0 0 -0z" fill="#ffeb3b"/>
<text x="1302.3" y="689.9" font-size="12" fill="#131722" textLength="29.3" lengthAdjust="spacingAndGlyphs">41.40</text>
<path d="M1216 677.4H1293q0 0 0 0V694q0 0 -0 0H1216q-2 0 -2 -2V679.4q0 -2 2 -2z" fill="#ffeb3b"/>
<text x="1218.6" y="689.9" font-size="12" fill="#131722" textLength="70.5" lengthAdjust="spacingAndGlyphs">RSI-based MA</text>
<rect x="1297.3" y="31.1" width="57.8" height="25.7" rx="4.5" fill="#fff" stroke="#ebebee" stroke-width="1.5"/>
<text x="1306.3" y="48.7" font-size="12" fill="#131722" textLength="27.5" lengthAdjust="spacingAndGlyphs">USDT</text>
<text y="45.6" font-size="12" fill="#131722"><tspan x="18.3" textLength="17.5" lengthAdjust="spacingAndGlyphs">SOL</tspan> <tspan x="43.1" textLength="5.1" lengthAdjust="spacingAndGlyphs">/</tspan> <tspan x="52.6" textLength="46.7" lengthAdjust="spacingAndGlyphs">TetherUS</tspan> <tspan x="104" textLength="2.4" lengthAdjust="spacingAndGlyphs">·</tspan> <tspan x="111.8" textLength="12.4" lengthAdjust="spacingAndGlyphs">1D</tspan> <tspan x="129.3" textLength="2.4" lengthAdjust="spacingAndGlyphs">·</tspan> <tspan x="136.6" textLength="45.3" lengthAdjust="spacingAndGlyphs">BINANCE</tspan></text>
<text x="190" y="45.6" font-size="12" fill="#131722" textLength="43.4" lengthAdjust="spacingAndGlyphs">O<tspan fill="#26a69a">139.05</tspan></text>
<text x="242" y="45.6" font-size="12" fill="#131722" textLength="42.4" lengthAdjust="spacingAndGlyphs">H<tspan fill="#26a69a">143.49</tspan></text>
<text x="292.7" y="45.6" font-size="12" fill="#131722" textLength="40.8" lengthAdjust="spacingAndGlyphs">L<tspan fill="#26a69a">137.14</tspan></text>
<text x="341.6" y="45.6" font-size="12" fill="#131722" textLength="41.7" lengthAdjust="spacingAndGlyphs">C<tspan fill="#26a69a">142.77</tspan></text>
<text x="392.4" y="45.6" font-size="12" fill="#26a69a" textLength="77.6" lengthAdjust="spacingAndGlyphs">+3.71 (+2.67%)</text>
<text x="18" y="62.8" font-size="12" fill="#131722" textLength="82" lengthAdjust="spacingAndGlyphs">EMA (20, close)</text>
<text x="108" y="62.8" font-size="12" fill="#2962ff" textLength="35.2" lengthAdjust="spacingAndGlyphs">146.52</text>
<text x="18" y="79.9" font-size="12" fill="#131722" textLength="82" lengthAdjust="spacingAndGlyphs">SMA (50, close)</text>
<text x="108" y="79.9" font-size="12" fill="#f23645" textLength="35.2" lengthAdjust="spacingAndGlyphs">159.40</text>
<path d="M9.8 778.1h8.2v9.9h-4.6v-5.5h-3.6z M24.1 778.1h5.7l-3.5 9.9h-5.7z" fill="#131722"/><circle cx="21" cy="780" r="1.9" fill="#131722"/>
<text x="32.9" y="787.8" font-size="12.5" fill="#131722" textLength="70.5" lengthAdjust="spacingAndGlyphs">TradingView</text>
<text x="15" y="755.6" font-size="11.8" fill="#131722" textLength="19" lengthAdjust="spacingAndGlyphs">Nov</text>
<text x="161" y="755.6" font-size="11.8" fill="#131722" textLength="19" lengthAdjust="spacingAndGlyphs">Dec</text>
<text x="308.5" y="755.6" font-size="11.8" fill="#131722" font-weight="bold" textLength="27.5" lengthAdjust="spacingAndGlyphs">2025</text>
<text x="463" y="755.6" font-size="11.8" fill="#131722" textLength="18.5" lengthAdjust="spacingAndGlyphs">Feb</text>
<text x="599.3" y="755.6" font-size="11.8" fill="#131722" textLength="19.3" lengthAdjust="spacingAndGlyphs">Mar</text>
<text x="751.2" y="755.6" font-size="11.8" fill="#131722" textLength="18.3" lengthAdjust="spacingAndGlyphs">Apr</text>
<text x="895.8" y="755.6" font-size="11.8" fill="#131722" textLength="21.7" lengthAdjust="spacingAndGlyphs">May</text>
<text x="1047.7" y="755.6" font-size="11.8" fill="#131722" textLength="19.3" lengthAdjust="spacingAndGlyphs">Jun</text>
<text x="1195.7" y="755.6" font-size="11.8" fill="#131722" textLength="15.9" lengthAdjust="spacingAndGlyphs">Jul</text>
<text y="19" font-size="12.4" fill="#131722"><tspan x="10.2" textLength="59.4" lengthAdjust="spacingAndGlyphs">ranadagger</tspan> <tspan x="73.7" textLength="40.9" lengthAdjust="spacingAndGlyphs">created</tspan> <tspan x="118.4" textLength="21.4" lengthAdjust="spacingAndGlyphs">with</tspan> <tspan x="146.2" textLength="94.2" lengthAdjust="spacingAndGlyphs">TradingView.com,</tspan> <tspan x="245" textLength="18.2" lengthAdjust="spacingAndGlyphs">Jun</tspan> <tspan x="267.5" textLength="13.8" lengthAdjust="spacingAndGlyphs">27,</tspan> <tspan x="288" textLength="22.5" lengthAdjust="spacingAndGlyphs">2025</tspan> <tspan x="317.3" textLength="26.3" lengthAdjust="spacingAndGlyphs">15:38</tspan> <tspan x="348" textLength="23.3" lengthAdjust="spacingAndGlyphs">UTC</tspan></text>
</svg>
</body></html>
